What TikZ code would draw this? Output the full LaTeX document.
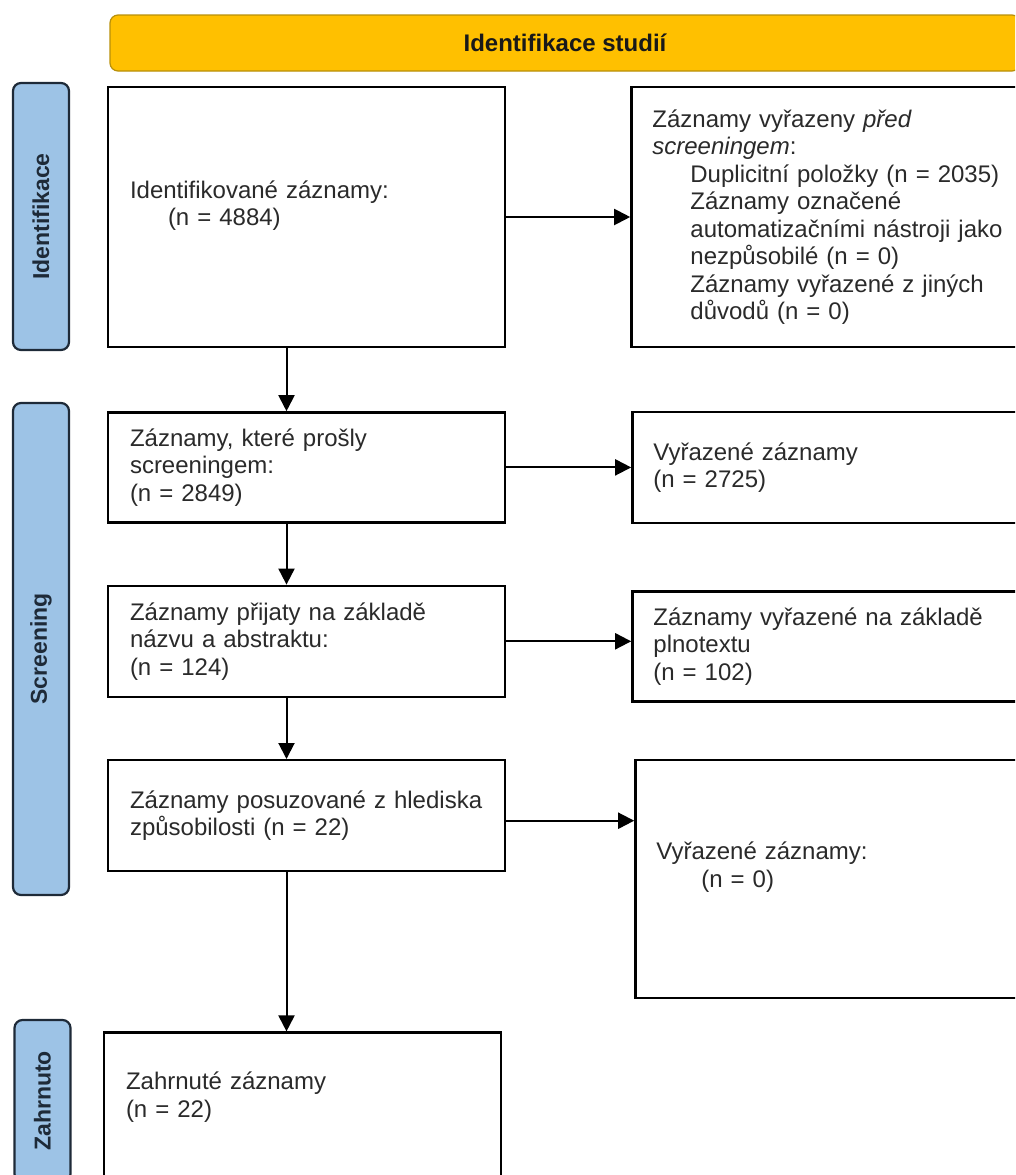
\documentclass[tikz,border=0pt]{standalone}
\usepackage{fontspec}
\setmainfont{Liberation Sans}
\usetikzlibrary{arrows.meta,positioning}
\definecolor{bannergold}{HTML}{FFC000}
\definecolor{bannerline}{HTML}{B8900A}
\definecolor{phaseblue}{HTML}{9DC3E6}
\definecolor{phaseline}{HTML}{1E2A38}
\definecolor{txt}{HTML}{2A2A2A}
\newcommand{\indt}{\hspace*{38pt}}
\tikzset{
  rec/.style    ={draw=black, line width=2.4pt, fill=white, align=left, inner ysep=0pt,
                  text=txt, font=\fontsize{24}{27.5}\selectfont},
  lrec/.style   ={rec, text width=353pt, inner xsep=22pt},
  rrec/.style   ={rec, text width=358pt, inner xsep=21pt},
  phase/.style  ={draw=phaseline, fill=phaseblue, line width=2.2pt, rounded corners=8pt, rotate=90,
                  minimum height=56pt, text=phaseline, font=\fontsize{23}{27}\selectfont\bfseries},
  banner/.style ={draw=bannerline, fill=bannergold, line width=1.2pt, rounded corners=8pt,
                  minimum width=910pt, minimum height=56pt, text=black!90,
                  font=\fontsize{24}{28}\selectfont\bfseries},
  ar/.style     ={-{Triangle[length=16pt,width=16pt]}, line width=2pt, draw=black},
}
\begin{document}
\begin{tikzpicture}[x=1pt,y=-1pt]
\useasboundingbox (0,0) rectangle (1015,1175);
\clip (0,0) rectangle (1015,1175);
% phases
\node[banner] (top) at (565,43) {Identifikace studií};
\node[phase, minimum width=267pt] (pid) at (41,216.5) {Identifikace};
\node[phase, minimum width=492pt] (pscr) at (41,649) {Screening};
\node[phase, minimum width=162pt] (pinc) at (42.5,1101) {Zahrnuto};
% main column
\node[lrec, minimum height=260pt, text depth=55pt] (idn) at (306.5,217) {Identifikované záznamy:\\\indt(n = 4884)};
\node[lrec, minimum height=110pt, below=63pt of idn] (scr) {Záznamy, které prošly\\screeningem:\\(n = 2849)};
\node[lrec, minimum height=111pt, below=61pt of scr] (tia) {Záznamy přijaty na základě\\názvu a abstraktu:\\(n = 124)};
\node[lrec, minimum height=111pt, below=61pt of tia] (elg) {Záznamy posuzované z hlediska\\způsobilosti (n = 22)};
\node[lrec, minimum height=177pt, text depth=80pt, below=159pt of elg, xshift=-4pt] (inc) {Zahrnuté záznamy\\(n = 22)};
% excluded
\node[rrec, minimum height=260pt, right=124pt of idn] (dup) {Záznamy vyřazeny \textit{před}\\\textit{screeningem}:\\\indt Duplicitní položky (n = 2035)\\\indt Záznamy označené\\\indt automatizačními nástroji jako\\\indt nezpůsobilé (n = 0)\\\indt Záznamy vyřazené z jiných\\\indt důvodů (n = 0)};
\node[rrec, minimum height=111pt, right=125pt of scr] (exs) {Vyřazené záznamy\\(n = 2725)};
\node[rrec, minimum height=110pt, right=125pt of tia, yshift=-5pt] (exf) {Záznamy vyřazené na základě\\plnotextu\\(n = 102)};
\node[rrec, minimum height=238pt, text depth=57pt, right=128pt of elg.north east, anchor=north west] (exe) {Vyřazené záznamy:\\\hspace*{45pt}(n = 0)};
% arrows
\draw[ar] (idn) -- (dup);
\draw[ar] (scr) -- (exs);
\draw[ar] (tia.east) -- (tia.east -| exf.west);
\draw[ar] ([yshift=-5pt]elg.east) -- ([yshift=-5pt]elg.east -| exe.west);
\draw[ar] ([xshift=-20pt]idn.south) -- ([xshift=-20pt]scr.north);
\draw[ar] ([xshift=-20pt]scr.south) -- ([xshift=-20pt]tia.north);
\draw[ar] ([xshift=-20pt]tia.south) -- ([xshift=-20pt]elg.north);
\draw[ar] ([xshift=-20pt]elg.south) -- ([xshift=-20pt]elg.south |- inc.north);
\end{tikzpicture}
\end{document}
